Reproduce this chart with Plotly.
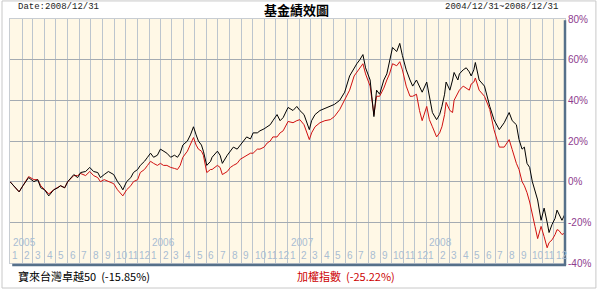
import plotly.graph_objects as go

dates = [
    "2004-12-31", "2005-01-10", "2005-01-24", "2005-02-03", "2005-02-18", "2005-03-04", "2005-03-14",
    "2005-03-22", "2005-04-01", "2005-04-12", "2005-04-25", "2005-05-06", "2005-05-13", "2005-05-24",
    "2005-06-01", "2005-06-17", "2005-06-27", "2005-07-05", "2005-07-18", "2005-07-29", "2005-08-08",
    "2005-08-19", "2005-08-26", "2005-09-05", "2005-09-16", "2005-09-30", "2005-10-10", "2005-10-18",
    "2005-10-24", "2005-11-03", "2005-11-14", "2005-11-21", "2005-12-02", "2005-12-09", "2005-12-20",
    "2005-12-28", "2006-01-05", "2006-01-13", "2006-01-23", "2006-01-31", "2006-02-08", "2006-02-17",
    "2006-02-27", "2006-03-09", "2006-03-17", "2006-03-24", "2006-03-31", "2006-04-12", "2006-04-20",
    "2006-04-28", "2006-05-05", "2006-05-11", "2006-05-19", "2006-05-24", "2006-06-02", "2006-06-12",
    "2006-06-16", "2006-06-30", "2006-07-07", "2006-07-13", "2006-07-26", "2006-08-03", "2006-08-11",
    "2006-08-21", "2006-08-29", "2006-09-08", "2006-09-15", "2006-09-25", "2006-10-02", "2006-10-13",
    "2006-10-20", "2006-10-31", "2006-11-08", "2006-11-16", "2006-11-23", "2006-12-04", "2006-12-12",
    "2006-12-20", "2007-01-02", "2007-01-15", "2007-01-25", "2007-02-02", "2007-02-13", "2007-02-27",
    "2007-03-05", "2007-03-14", "2007-03-27", "2007-04-09", "2007-04-23", "2007-05-04", "2007-05-18",
    "2007-05-31", "2007-06-13", "2007-06-25", "2007-07-02", "2007-07-10", "2007-07-18", "2007-07-25",
    "2007-08-06", "2007-08-16", "2007-08-23", "2007-08-31", "2007-09-11", "2007-09-19", "2007-09-26",
    "2007-10-04", "2007-10-15", "2007-10-23", "2007-10-30", "2007-11-09", "2007-11-19", "2007-11-26",
    "2007-12-06", "2007-12-14", "2007-12-21", "2008-01-02", "2008-01-09", "2008-01-17", "2008-01-28",
    "2008-02-05", "2008-02-11", "2008-02-18", "2008-02-22", "2008-03-03", "2008-03-10", "2008-03-14",
    "2008-03-24", "2008-03-28", "2008-04-07", "2008-04-15", "2008-04-23", "2008-04-28", "2008-05-05",
    "2008-05-09", "2008-05-19", "2008-06-02", "2008-06-16", "2008-06-27", "2008-07-11", "2008-07-24",
    "2008-08-06", "2008-08-14", "2008-08-25", "2008-09-01", "2008-09-09", "2008-09-15", "2008-09-22",
    "2008-09-29", "2008-10-06", "2008-10-13", "2008-10-20", "2008-10-29", "2008-11-06", "2008-11-14",
    "2008-11-19", "2008-11-27", "2008-12-05", "2008-12-10", "2008-12-15", "2008-12-23", "2008-12-31",
]

fund_returns = [
    0, -2, -5, -2, 2, 0, 1,
    -3, -4, -7, -4, -3, -2, -3,
    0, 3.5, 2, 4.5, 5, 7, 5,
    4.5, 2, 3.5, 5, 3.5, 0, -2,
    -4, 0, 2, 4.5, 6, 8, 10,
    12, 14, 12, 13, 16, 15, 14,
    12, 13, 12, 14, 18, 20, 23,
    27, 23, 20, 18, 15, 8, 10,
    12, 15, 13, 9, 13, 15, 17,
    16, 18, 20, 22, 21, 24, 24,
    25, 26, 27, 28, 30, 33, 30,
    31.5, 36.5, 35, 37, 35, 33, 25.6,
    30, 33, 35, 36, 37, 38, 40,
    44, 52, 56, 58, 60, 62.5, 56,
    50, 32, 45, 43, 50, 53, 60,
    66, 64, 68, 62, 55, 50, 47,
    50, 47, 44, 49, 41, 34, 30.5,
    33, 37, 43, 49, 45, 50, 53.7,
    50, 53, 55, 56, 54, 52, 55,
    58.6, 50, 47, 37, 30.5, 25.6, 29,
    34, 30, 28, 20.7, 16, 17, 9,
    7, 0, -5, -9, -19, -13, -20,
    -25, -21, -18, -14, -16, -19, -15.85,
]

index_returns = [
    0, -2, -5, -2, 2.5, 1, 1,
    -2, -4, -6, -4, -3, -2, -3,
    0, 3, 3, 4, 3, 5, 3,
    2, 0, 1, 0, -1, -4, -6,
    -7, -4, -2, 0, 1, 4.5, 6,
    8, 10, 9, 8, 9, 8, 8,
    7, 6.5, 6, 8, 12, 15, 18,
    21.7, 18, 16, 15, 13, 4.5, 6,
    6, 8, 7, 3.5, 5, 7, 8,
    9, 11, 12, 13, 14, 14, 16,
    16, 17, 19, 20, 22, 22, 24,
    25, 29.6, 29, 30, 30.5, 28, 20.7,
    24, 27, 29, 30, 30.5, 32, 35.5,
    40, 45, 52, 54, 56, 58, 53,
    47, 33, 42, 42, 46, 50, 53,
    58, 57, 59, 55, 47, 42, 42,
    43, 35, 30, 37, 30.5, 27, 22,
    24, 27, 33, 39, 35, 34, 40,
    44, 45, 47, 46, 45, 48, 49,
    51, 45, 42, 35.5, 25.6, 17, 17,
    20.7, 15.8, 9, 6, 0, -2, -5.4,
    -10, -17, -22, -28, -22, -27, -32.5,
    -30, -28.6, -26, -23.6, -24, -26, -25.22,
]

fund_name = "寶來台灣卓越50"
index_name = "加權指數"
fund_total = "-15.85%"
index_total = "-25.22%"
title_text = "基金績效圖"
date_text = "Date:2008/12/31"
period_text = "2004/12/31~2008/12/31"
years = ["2005", "2006", "2007", "2008"]
month_labels = [str(m) for m in range(1, 13)]
y_ticks = [-40, -20, 0, 20, 40, 60, 80]

fig = go.Figure()
fig.add_trace(go.Scatter(x=dates, y=index_returns, mode="lines",
                         line=dict(color="#D01010", width=1), name=index_name))
fig.add_trace(go.Scatter(x=dates, y=fund_returns, mode="lines",
                         line=dict(color="#000000", width=1), name=fund_name))

annotations = []
for y in years:
    annotations.append(dict(x=f"{y}-01-01", y=0.085, xref="x", yref="paper", text=y,
                            showarrow=False, xanchor="left", yanchor="middle", xshift=1,
                            font=dict(family="Liberation Sans", size=10, color="#A9BDD3")))
    for i, m in enumerate(month_labels):
        annotations.append(dict(x=f"{y}-{i+1:02d}-01", y=0.03, xref="x", yref="paper", text=m,
                                showarrow=False, xanchor="left", yanchor="middle", xshift=0,
                                font=dict(family="Liberation Sans", size=10, color="#A9BDD3")))

annotations += [
    dict(x=0.011, y=1.05, xref="paper", yref="paper", text=date_text, showarrow=False,
         xanchor="left", yanchor="middle", font=dict(family="Liberation Mono", size=9, color="#222")),
    dict(x=0.517, y=1.04, xref="paper", yref="paper", text="<b>" + title_text + "</b>", showarrow=False,
         xanchor="center", yanchor="middle", font=dict(family="Noto Sans CJK TC", size=13, color="#000")),
    dict(x=0.991, y=1.05, xref="paper", yref="paper", text=period_text, showarrow=False,
         xanchor="right", yanchor="middle", font=dict(family="Liberation Mono", size=9, color="#222")),
    dict(x=0.011, y=-0.055, xref="paper", yref="paper", text=f"{fund_name}  ({fund_total})", showarrow=False,
         xanchor="left", yanchor="middle", font=dict(family="Noto Sans CJK TC", size=11, color="#000")),
    dict(x=0.513, y=-0.055, xref="paper", yref="paper", text=f"{index_name}  ({index_total})", showarrow=False,
         xanchor="left", yanchor="middle", font=dict(family="Noto Sans CJK TC", size=11, color="#CC0000")),
]

shapes = [
    # outer frame of the image
    dict(type="rect", xref="paper", yref="paper", x0=-0.0144, x1=1.0557, y0=-0.1025, y1=1.074,
         line=dict(color="#C8C8C8", width=1), layer="below"),
    # dark shadow borders on the right and bottom of the plot
    dict(type="line", xref="paper", yref="paper", x0=1, x1=1, y0=-0.008, y1=0.995,
         line=dict(color="#56708A", width=2.5)),
    dict(type="line", xref="paper", yref="paper", x0=0.004, x1=1.002, y0=-0.008, y1=-0.008,
         line=dict(color="#56708A", width=2.5)),
]

fig.update_layout(
    width=600, height=290,
    margin=dict(l=9, r=34, t=19, b=27),
    paper_bgcolor="#FFFFFF",
    plot_bgcolor="#FFF8E6",
    showlegend=False,
    annotations=annotations,
    shapes=shapes,
    xaxis=dict(type="date", range=["2004-12-31", "2008-12-31"], showticklabels=False,
               tick0="2005-01-01", dtick="M1", showgrid=True, gridcolor="#BCC5CE", gridwidth=1,
               zeroline=False, showline=True, linecolor="#C8CDD2", mirror=True, ticks=""),
    yaxis=dict(range=[-40, 80], side="right", tickvals=y_ticks, ticktext=[f"{v}%" for v in y_ticks],
               showgrid=True, gridcolor="#A4ABB2", gridwidth=1, zeroline=False,
               showline=True, linecolor="#C8CDD2", mirror=True, ticks="",
               tickfont=dict(family="Liberation Sans", size=10, color="#8E3C8E")),
)

fig.write_html("out.html")
